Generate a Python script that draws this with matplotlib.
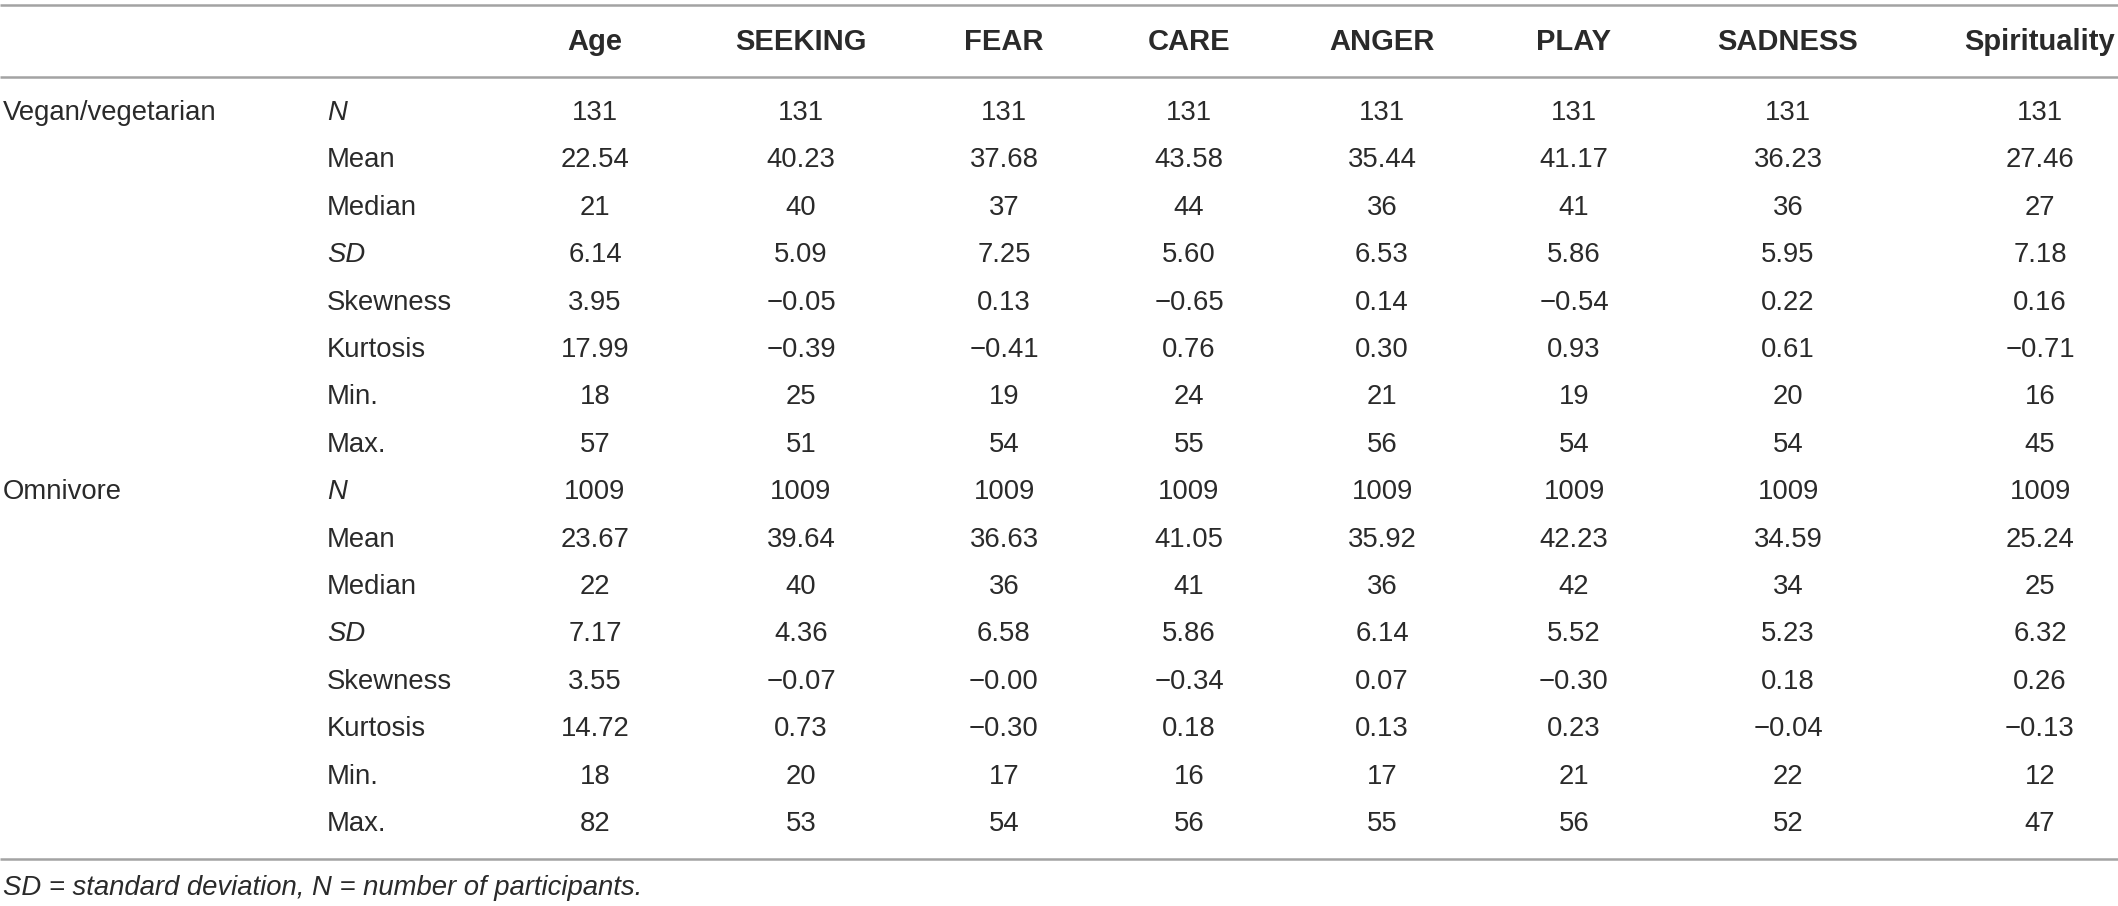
import matplotlib
matplotlib.use("Agg")
import matplotlib.pyplot as plt

columns = ["Age", "SEEKING", "FEAR", "CARE", "ANGER", "PLAY", "SADNESS", "Spirituality"]
groups = ["Vegan/vegetarian", "Omnivore"]
stats = ["N", "Mean", "Median", "SD", "Skewness", "Kurtosis", "Min.", "Max."]
italic_stats = ["N", "SD"]

vegan = [
    ["131", "131", "131", "131", "131", "131", "131", "131"],
    ["22.54", "40.23", "37.68", "43.58", "35.44", "41.17", "36.23", "27.46"],
    ["21", "40", "37", "44", "36", "41", "36", "27"],
    ["6.14", "5.09", "7.25", "5.60", "6.53", "5.86", "5.95", "7.18"],
    ["3.95", "−0.05", "0.13", "−0.65", "0.14", "−0.54", "0.22", "0.16"],
    ["17.99", "−0.39", "−0.41", "0.76", "0.30", "0.93", "0.61", "−0.71"],
    ["18", "25", "19", "24", "21", "19", "20", "16"],
    ["57", "51", "54", "55", "56", "54", "54", "45"],
]
omnivore = [
    ["1009", "1009", "1009", "1009", "1009", "1009", "1009", "1009"],
    ["23.67", "39.64", "36.63", "41.05", "35.92", "42.23", "34.59", "25.24"],
    ["22", "40", "36", "41", "36", "42", "34", "25"],
    ["7.17", "4.36", "6.58", "5.86", "6.14", "5.52", "5.23", "6.32"],
    ["3.55", "−0.07", "−0.00", "−0.34", "0.07", "−0.30", "0.18", "0.26"],
    ["14.72", "0.73", "−0.30", "0.18", "0.13", "0.23", "−0.04", "−0.13"],
    ["18", "20", "17", "16", "17", "21", "22", "12"],
    ["82", "53", "54", "56", "55", "56", "52", "47"],
]
footnote = "SD = standard deviation, N = number of participants."

W, H = 2118, 906
plt.rcParams["font.family"] = ["Liberation Sans", "DejaVu Sans"]
fig = plt.figure(figsize=(W / 100, H / 100), dpi=100)
ax = fig.add_axes([0, 0, 1, 1])
ax.set_xlim(0, W)
ax.set_ylim(H, 0)
ax.axis("off")

txt = "#2a2a2a"
line_col = "#a3a3a3"
fs = 19.8
fs_head = 21

group_x = 3
stat_x = 327
col_x = [595, 801, 1004, 1189, 1382, 1574, 1788, 2040]
header_y = 42
row_y0 = 113
row_h = 47.4

# horizontal rules: top, under header, bottom
for y in [5, 77, 859]:
    ax.plot([0, W], [y, y], color=line_col, lw=1.8, solid_capstyle="butt")

for x, c in zip(col_x, columns):
    ax.text(x, header_y, c, ha="center", va="center", fontsize=fs_head,
            fontweight="bold", color=txt)

row = 0
for g, block in zip(groups, [vegan, omnivore]):
    for i, (s, vals) in enumerate(zip(stats, block)):
        y = row_y0 + row * row_h
        if i == 0:
            ax.text(group_x, y, g, ha="left", va="center", fontsize=fs, color=txt)
        ax.text(stat_x, y, s, ha="left", va="center", fontsize=fs, color=txt,
                style="italic" if s in italic_stats else "normal")
        for x, v in zip(col_x, vals):
            ax.text(x, y, v, ha="center", va="center", fontsize=fs, color=txt)
        row += 1

ax.text(group_x, 888, footnote, ha="left", va="center", fontsize=fs,
        style="italic", color=txt)

fig.savefig("out.png", dpi=100)
